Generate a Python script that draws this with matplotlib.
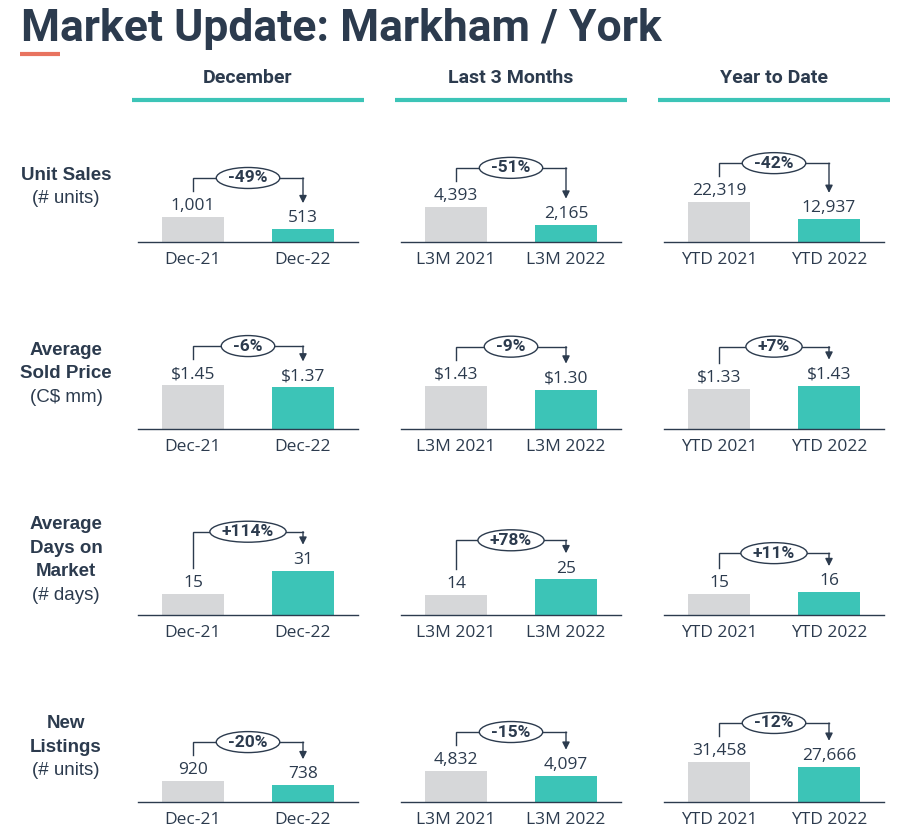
import matplotlib.pyplot as plt
from matplotlib.lines import Line2D
from matplotlib.patches import Ellipse

W, H = 919, 839

NAVY = '#2c3b4e'
TEAL = '#3cc4b7'
GRAY = '#d6d7d9'
ORANGE = '#e8735f'

title = 'Market Update: Markham / York'
columns = ['December', 'Last 3 Months', 'Year to Date']
row_titles = [['Unit Sales'], ['Average', 'Sold Price'],
              ['Average', 'Days on', 'Market'], ['New', 'Listings']]
row_units = ['(# units)', '(C$ mm)', '(# days)', '(# units)']
period_labels = [['Dec-21', 'Dec-22'], ['L3M 2021', 'L3M 2022'],
                 ['YTD 2021', 'YTD 2022']]

unit_sales = [[1001, 513], [4393, 2165], [22319, 12937]]
sold_price = [[1.45, 1.37], [1.43, 1.30], [1.33, 1.43]]
days_on_market = [[15, 31], [14, 25], [15, 16]]
new_listings = [[920, 738], [4832, 4097], [31458, 27666]]
pct_change = [['-49%', '-51%', '-42%'], ['-6%', '-9%', '+7%'],
              ['+114%', '+78%', '+11%'], ['-20%', '-15%', '-12%']]

value_fmt = ['{:,.0f}', '${:.2f}', '{:.0f}', '{:,.0f}']
# each mini chart has its own y scale
ylim_top = [[4000, 12500, 56000], [3.3, 3.3, 3.3],
            [70, 70, 70], [4400, 15600, 78600]]

rows = [unit_sales, sold_price, days_on_market, new_listings]

BODY = ['Open Sans', 'DejaVu Sans']
HEAD = ['Roboto', 'DejaVu Sans']
LABEL = ['Liberation Sans', 'DejaVu Sans']

fig = plt.figure(figsize=(W / 100, H / 100), dpi=100)
renderer = fig.canvas.get_renderer()


def fx(px):
    return px / W


def fy(py):
    return 1 - py / H


# title + orange underline
fig.text(fx(21), fy(41), title, fontsize=32, fontweight='bold', color=NAVY,
         family=HEAD, va='baseline', ha='left')
fig.add_artist(Line2D([fx(20), fx(60)], [fy(54), fy(54)], color=ORANGE, lw=3,
                      solid_capstyle='butt'))

panel_left = [138, 401, 664]
panel_w = 220
baselines = [242, 429, 615, 802]
panel_h = 100

# column headers
for j, col in enumerate(columns):
    cx = panel_left[j] + panel_w / 2
    fig.text(fx(cx), fy(78), col, fontsize=14, fontweight='bold', color=NAVY,
             family=HEAD, ha='center', va='center')
    fig.add_artist(Line2D([fx(cx - 116), fx(cx + 116)], [fy(100), fy(100)],
                          color=TEAL, lw=3, solid_capstyle='butt'))


def shift(ax, v, dpx):
    x0, y0 = ax.transData.transform((0, v))
    return ax.transData.inverted().transform((x0, y0 + dpx))[1]


for i, data in enumerate(rows):
    base = baselines[i]
    # row label
    lines = row_titles[i] + [row_units[i]]
    n = len(lines)
    center = base - 55
    for k, line in enumerate(lines):
        yy = center + (k - (n - 1) / 2) * 23.5
        fig.text(fx(66), fy(yy), line, fontsize=13.5, color=NAVY, family=LABEL,
                 fontweight='bold' if k < n - 1 else 'normal',
                 ha='center', va='center')

    for j in range(3):
        a, b = data[j]
        ax = fig.add_axes([fx(panel_left[j]), fy(base), fx(panel_w),
                           panel_h / H])
        ax.bar([0, 1], [a, b], width=0.564, color=[GRAY, TEAL])
        ax.set_xlim(-0.5, 1.5)
        ax.set_ylim(0, ylim_top[i][j])
        for s in ['top', 'right', 'left']:
            ax.spines[s].set_visible(False)
        ax.spines['bottom'].set_color(NAVY)
        ax.spines['bottom'].set_linewidth(1)
        ax.set_yticks([])
        ax.set_xticks([0, 1])
        ax.set_xticklabels(period_labels[j], fontsize=12.5, color=NAVY,
                           family=BODY)
        ax.tick_params(axis='x', length=0, pad=7)
        ax.patch.set_alpha(0)

        for x, v in zip([0, 1], [a, b]):
            ax.annotate(value_fmt[i].format(v), (x, v), xytext=(0, 2),
                        textcoords='offset points', ha='center', va='bottom',
                        fontsize=12.5, color=NAVY, family=BODY)

        # bracket with change label
        left_end = shift(ax, a, 26)
        tip = shift(ax, b, 26)
        level = shift(ax, max(left_end, tip), 13)
        ax.plot([0, 0, 1], [left_end, level, level], color=NAVY, lw=1,
                clip_on=False, solid_joinstyle='miter')
        ax.annotate('', xy=(1, tip), xytext=(1, level),
                    arrowprops=dict(arrowstyle='-|>', color=NAVY, lw=1,
                                    mutation_scale=11, shrinkA=0, shrinkB=0),
                    annotation_clip=False)
        t = ax.text(0.5, level, pct_change[i][j], ha='center', va='center',
                    fontsize=12.5, fontweight='bold', color=NAVY, family=HEAD,
                    clip_on=False, zorder=5)
        tw = t.get_window_extent(renderer).width
        (x0, y0), (x1, y1) = ax.transData.transform([(0, 0), (1, 1)])
        ell = Ellipse((0.5, level), width=(tw + 24) / (x1 - x0),
                      height=21 / (y1 - y0), fc='white', ec=NAVY, lw=1,
                      clip_on=False, zorder=4)
        ax.add_patch(ell)

fig.savefig('out.png', dpi=100)
